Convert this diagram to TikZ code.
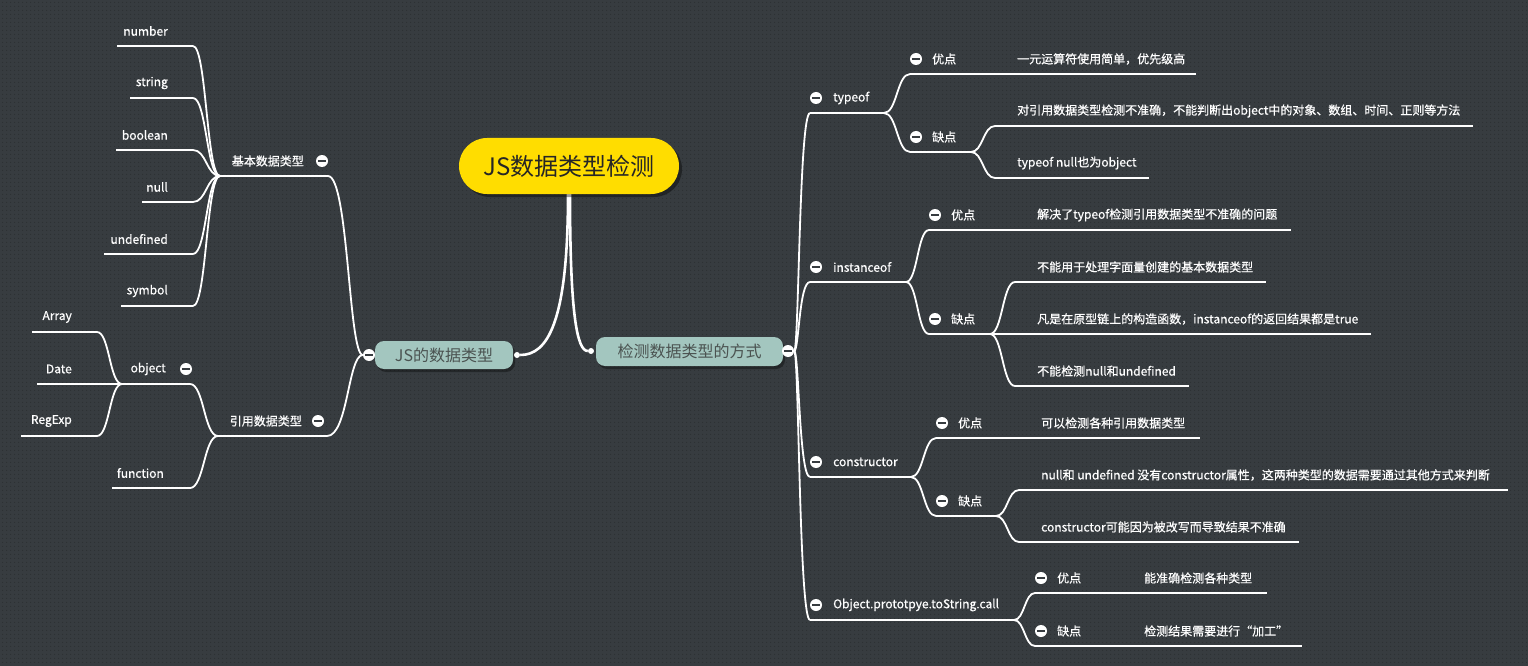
\documentclass[tikz,border=0pt]{standalone}
\usepackage{fontspec}
\setmainfont{Noto Sans CJK SC}
\newfontfamily\leaffont{Noto Sans CJK SC}[FakeBold=0.6]
\usetikzlibrary{calc,shadows,patterns.meta}
\pgfdeclarelayer{bglayer}
\pgfdeclarelayer{edgelayer}
\pgfsetlayers{bglayer,edgelayer,main}
\definecolor{bgc}{HTML}{373C40}
\definecolor{dotc}{HTML}{2C3033}
\definecolor{rootc}{HTML}{FFDD00}
\definecolor{mainc}{HTML}{A3C6BF}
\definecolor{maintext}{HTML}{4B5351}
\tikzset{
twig/.style={white,line width=1.8pt},
trunk/.style={white,line width=2.6pt},
leaf/.style={text=white,inner sep=0pt,font=\leaffont\fontsize{12}{14}\selectfont},
fold/.style={circle,fill=white,minimum size=12pt,inner sep=0pt,
  path picture={\fill[bgc] ([xshift=-4pt,yshift=-1pt]path picture bounding box.center) rectangle ([xshift=4pt,yshift=1pt]path picture bounding box.center);}},
knob/.style={circle,fill=white,minimum size=6pt,inner sep=0pt},
rootbox/.style={rounded corners=28pt,fill=rootc,text=black!85,minimum width=220pt,minimum height=56pt,
  font=\fontsize{24}{28}\selectfont,drop shadow={shadow xshift=3pt,shadow yshift=-3pt,opacity=.4,fill=black}},
mainbox/.style={rounded corners=9pt,fill=mainc,text=maintext,font=\fontsize{16}{18}\selectfont,
  drop shadow={shadow xshift=2pt,shadow yshift=-3pt,opacity=.35,fill=black}}
}
\newcommand{\twiglink}[2]{%
\draw[twig] let \p1=(#1), \p2=(#2) in (#1) .. controls ({(\x1+\x2)/2},\y1) and ({(\x1+\x2)/2},\y2) .. (#2);}
\begin{document}
\begin{tikzpicture}[x=1pt,y=-1pt]
\begin{pgfonlayer}{bglayer}
\fill[bgc] (0,0) rectangle (1528,666);
\fill[pattern={Dots[radius=0.7pt,distance=4pt]},pattern color=dotc] (0,0) rectangle (1528,666);
\end{pgfonlayer}
\useasboundingbox (0,0) rectangle (1528,666);

% centre
\node[rootbox] (root) at (569,166) {JS数据类型检测};
\node[mainbox,minimum width=138pt,minimum height=28pt] (jstype) at (444,355) {JS的数据类型};
\node[mainbox,minimum width=187pt,minimum height=29pt] (check) at (689.5,351.5) {检测数据类型的方式};
\node[knob] (d-jstype) at (517,355) {};
\node[knob] (d-check) at (591,351) {};
\begin{pgfonlayer}{edgelayer}
\draw[trunk] ([xshift=-1pt]root.south) .. controls +(0,130) and +(30,0) .. (d-jstype);
\draw[trunk] ([xshift=1pt]root.south) .. controls +(0,120) and +(-14,0) .. (d-check);
\end{pgfonlayer}

% left side
\coordinate (basic-l) at (220,176); \coordinate (basic-r) at (328,176);
\coordinate (ref-l) at (218,436); \coordinate (ref-r) at (327,436);
\coordinate (object-l) at (122,384); \coordinate (object-r) at (190,384);
\coordinate (function-l) at (112,488); \coordinate (function-r) at (190,488);
\node[leaf,anchor=east] (basic) at (304,161) {基本数据类型};
\node[leaf,anchor=east] (ref) at (302,421) {引用数据类型};
\node[leaf,anchor=east] (object) at (166,369) {object};
\node[leaf,anchor=east] (function) at (164,473) {function};
\foreach \nm/\xl/\y in {number/117/46,string/130/98,boolean/116/150,null/142/202,undefined/104/254,symbol/121/306}{
  \node[leaf,anchor=east] (\nm) at (168,\y-15) {\nm};
  \coordinate (\nm-l) at (\xl,\y); \coordinate (\nm-r) at (193,\y);
  \begin{pgfonlayer}{edgelayer}
  \draw[twig] (\nm-l) -- (\nm-r);
  \twiglink{\nm-r}{basic-l}
  \end{pgfonlayer}
}
\foreach \nm/\xl/\y in {Array/32/332,Date/37/384,RegExp/21/436}{
  \node[leaf,anchor=east] (\nm) at (72,\y-15) {\nm};
  \coordinate (\nm-l) at (\xl,\y); \coordinate (\nm-r) at (97,\y);
  \begin{pgfonlayer}{edgelayer}
  \draw[twig] (\nm-l) -- (\nm-r);
  \twiglink{\nm-r}{object-l}
  \end{pgfonlayer}
}
\node[fold] (f-jstype) at (369,355) {};
\node[fold] (f-basic) at (322,161) {};
\node[fold] (f-ref) at (318,421) {};
\node[fold] (f-object) at (186,369) {};
\begin{pgfonlayer}{edgelayer}
\draw[twig] (basic-l) -- (basic-r);
\draw[twig] (ref-l) -- (ref-r);
\draw[twig] (object-l) -- (object-r);
\draw[twig] (function-l) -- (function-r);
\twiglink{f-jstype}{basic-r}
\twiglink{f-jstype}{ref-r}
\twiglink{ref-l}{object-r}
\twiglink{ref-l}{function-r}
\end{pgfonlayer}

% right side: methods
\node[fold] (f-check) at (788,351) {};
\foreach \nm/\xr/\y/\txt in {typeof/884/113/typeof,instof/906/282/instanceof,cons/911/477/constructor,call/1014/620/Object.prototpye.toString.call}{
  \node[leaf,anchor=west] (\nm) at (833,\y-15) {\txt};
  \node[fold] (f-\nm) at (816,\y-15) {};
  \coordinate (\nm-l) at (810,\y); \coordinate (\nm-r) at (\xr,\y);
  \begin{pgfonlayer}{edgelayer}
  \draw[twig] (\nm-l) -- (\nm-r);
  \twiglink{f-check}{\nm-l}
  \end{pgfonlayer}
}
% pros and cons
\foreach \nm/\up/\xl/\xr/\y/\txt in {tg/typeof/910/995/74/优点,tb/typeof/910/971/152/缺点,
  ig/instof/929/1015/230/优点,ib/instof/929/990/334/缺点,cg/cons/936/1019/438/优点,cb/cons/936/996/516/缺点,
  og/call/1035/1122/593/优点,ob/call/1035/1122/646/缺点}{
  \node[leaf,anchor=west] (\nm) at (\xl+22,\y-15) {\txt};
  \node[fold] (f-\nm) at (\xl+6,\y-15) {};
  \coordinate (\nm-l) at (\xl,\y); \coordinate (\nm-r) at (\xr,\y);
  \begin{pgfonlayer}{edgelayer}
  \draw[twig] (\nm-l) -- (\nm-r);
  \twiglink{\up-r}{\nm-l}
  \end{pgfonlayer}
}
% details
\foreach \nm/\up/\xl/\xr/\y/\txt in {tg1/tg/995/1196/74/一元运算符使用简单，优先级高,
  tb1/tb/995/1473/126/对引用数据类型检测不准确，不能判断出object中的对象、数组、时间、正则等方法,
  tb2/tb/995/1149/178/typeof null也为object,
  ig1/ig/1015/1291/230/解决了typeof检测引用数据类型不准确的问题,
  ib1/ib/1015/1266/282/不能用于处理字面量创建的基本数据类型,
  ib2/ib/1015/1371/334/凡是在原型链上的构造函数，instanceof的返回结果都是true,
  ib3/ib/1015/1189/386/不能检测null和undefined,
  cg1/cg/1019/1200/438/可以检测各种引用数据类型,
  cb1/cb/1019/1508/490/null和 undefined 没有constructor属性，这两种类型的数据需要通过其他方式来判断,
  cb2/cb/1019/1299/542/constructor可能因为被改写而导致结果不准确,
  og1/og/1122/1267/593/能准确检测各种类型,
  ob1/ob/1122/1302/646/检测结果需要进行“加工”}{
  \node[leaf,anchor=west] (\nm) at (\xl+22,\y-15) {\txt};
  \coordinate (\nm-l) at (\xl,\y); \coordinate (\nm-r) at (\xr,\y);
  \begin{pgfonlayer}{edgelayer}
  \draw[twig] (\nm-l) -- (\nm-r);
  \twiglink{\up-r}{\nm-l}
  \end{pgfonlayer}
}
\end{tikzpicture}
\end{document}
